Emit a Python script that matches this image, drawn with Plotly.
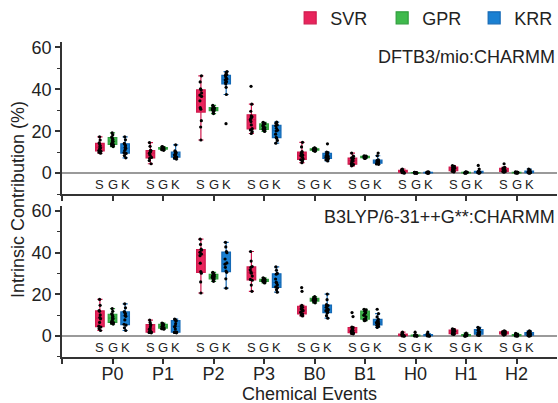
import plotly.graph_objects as go

# chemical events (x categories)
events = ["P0", "P1", "P2", "P3", "B0", "B1", "H0", "H1", "H2"]
methods = ["SVR", "GPR", "KRR"]
letters = ["S", "G", "K"]

# intrinsic contribution samples (%), one list per event
# --- DFTB3/mio:CHARMM ---
dftb_svr = [
    [9.5, 10.0, 10.5, 10.8, 11.5, 12.0, 12.6, 13.2, 14.0, 14.4, 15.8, 17.3],
    [4.5, 6.0, 7.1, 7.5, 8.6, 9.4, 9.8, 10.2, 10.7, 10.9, 12.8, 14.6],
    [15.8, 22.0, 25.0, 30.5, 31.2, 34.5, 36.6, 37.2, 38.2, 39.6, 40.2, 43.5, 46.4],
    [18.9, 19.8, 20.6, 21.2, 23.0, 24.6, 25.5, 26.2, 26.9, 27.3, 29.5, 32.9, 41.4],
    [5.0, 5.8, 6.4, 6.7, 7.6, 8.3, 8.7, 9.3, 9.9, 10.3, 12.5, 14.7],
    [3.5, 3.9, 4.2, 4.4, 5.3, 5.8, 6.2, 6.6, 7.1, 7.3, 8.1, 9.6],
    [0.0, 0.2, 0.4, 0.5, 0.7, 0.8, 1.0, 1.1, 1.3, 1.4, 1.7, 2.0],
    [0.6, 0.9, 1.1, 1.2, 1.6, 1.9, 2.1, 2.4, 2.8, 3.0, 3.3, 3.6],
    [0.5, 0.7, 0.8, 0.9, 1.2, 1.4, 1.6, 1.9, 2.2, 2.4, 2.8, 4.5],
]
dftb_gpr = [
    [12.7, 13.2, 13.6, 13.9, 14.6, 15.1, 15.5, 16.2, 16.8, 17.2, 18.3, 19.2],
    [10.9, 11.2, 11.4, 11.6, 11.8, 11.9, 11.9, 12.0, 12.2, 12.2, 12.5, 12.7],
    [28.4, 29.2, 29.7, 29.9, 30.3, 30.4, 30.6, 30.8, 31.1, 31.3, 31.8, 32.3],
    [19.9, 20.4, 20.7, 21.0, 21.6, 21.9, 22.1, 22.6, 23.3, 23.6, 23.9, 24.2],
    [10.4, 10.7, 10.9, 11.0, 11.2, 11.3, 11.3, 11.4, 11.6, 11.7, 11.9, 12.1],
    [7.0, 7.2, 7.4, 7.5, 7.6, 7.7, 7.8, 7.9, 8.0, 8.0, 8.1, 8.2],
    [0.0, 0.05, 0.1, 0.1, 0.15, 0.2, 0.2, 0.25, 0.3, 0.3, 0.35, 0.4],
    [0.0, 0.1, 0.15, 0.2, 0.25, 0.3, 0.3, 0.35, 0.4, 0.45, 0.5, 0.6],
    [0.0, 0.1, 0.15, 0.2, 0.25, 0.3, 0.3, 0.35, 0.4, 0.45, 0.5, 0.6],
]
dftb_krr = [
    [7.3, 8.4, 9.4, 9.8, 10.9, 11.8, 12.2, 13.1, 13.8, 14.2, 15.9, 17.3],
    [6.7, 7.2, 7.5, 7.7, 8.3, 8.7, 8.9, 9.3, 9.7, 9.9, 10.3, 10.6, 13.5],
    [23.6, 37.5, 40.9, 42.5, 43.2, 43.6, 44.4, 44.9, 45.1, 45.8, 46.6, 47.0, 47.8, 48.4],
    [14.3, 15.6, 16.7, 17.1, 18.6, 20.1, 20.5, 21.4, 22.6, 23.0, 23.8, 24.3],
    [5.8, 6.4, 6.9, 7.1, 7.6, 8.0, 8.2, 8.6, 9.1, 9.3, 9.8, 10.1, 14.0],
    [4.2, 4.4, 4.6, 4.8, 5.0, 5.2, 5.4, 5.6, 5.9, 6.1, 6.4, 8.3, 9.6],
    [0.0, 0.05, 0.1, 0.15, 0.2, 0.25, 0.3, 0.35, 0.4, 0.45, 0.5, 0.6],
    [0.0, 0.1, 0.2, 0.3, 0.4, 0.5, 0.6, 0.7, 0.8, 0.9, 2.0, 3.7],
    [0.0, 0.1, 0.2, 0.3, 0.45, 0.55, 0.65, 0.8, 0.95, 1.1, 1.5, 2.0],
]
# --- B3LYP/6-31++G**:CHARMM ---
b3lyp_svr = [
    [2.7, 3.6, 4.4, 4.8, 6.6, 8.3, 8.9, 10.2, 11.9, 12.3, 14.8, 17.6],
    [1.6, 1.8, 1.9, 2.0, 2.8, 3.3, 3.7, 4.5, 5.3, 5.7, 6.6, 7.7],
    [20.7, 26.0, 30.2, 31.0, 35.0, 38.6, 39.4, 40.2, 41.3, 41.7, 44.0, 46.5],
    [21.5, 24.5, 26.8, 27.2, 28.8, 30.2, 30.8, 31.8, 33.0, 33.4, 36.0, 40.6],
    [9.7, 10.2, 10.5, 10.7, 11.5, 12.2, 12.6, 13.1, 13.8, 14.2, 14.8, 21.5, 23.3],
    [1.1, 1.3, 1.5, 1.7, 2.2, 2.6, 2.8, 3.2, 3.8, 4.1, 4.3, 9.4, 11.3],
    [0.0, 0.1, 0.2, 0.3, 0.4, 0.5, 0.6, 0.7, 0.9, 1.1, 1.5, 1.9],
    [0.8, 1.0, 1.2, 1.3, 1.6, 1.9, 2.1, 2.4, 2.8, 3.0, 3.2, 3.5],
    [0.5, 0.8, 1.0, 1.1, 1.3, 1.5, 1.6, 1.8, 2.0, 2.1, 2.3, 2.5],
]
b3lyp_gpr = [
    [5.8, 6.2, 6.5, 6.7, 7.6, 8.4, 8.8, 9.6, 10.3, 10.7, 11.9, 13.2],
    [3.3, 3.6, 3.8, 3.9, 4.3, 4.6, 4.8, 5.1, 5.5, 5.7, 6.0, 6.3],
    [26.3, 27.0, 27.4, 27.6, 28.0, 28.3, 28.5, 28.9, 29.4, 29.8, 30.2, 30.6],
    [25.5, 25.9, 26.1, 26.3, 26.5, 26.6, 26.7, 26.9, 27.1, 27.3, 27.6, 28.0],
    [16.0, 16.4, 16.7, 16.9, 17.2, 17.3, 17.5, 17.7, 18.0, 18.2, 18.6, 19.0],
    [7.4, 7.8, 8.1, 8.3, 9.3, 10.0, 10.4, 11.2, 11.9, 12.2, 12.6, 12.9],
    [0.0, 0.1, 0.15, 0.2, 0.25, 0.3, 0.35, 0.4, 0.45, 0.5, 0.6, 1.9],
    [0.0, 0.1, 0.2, 0.3, 0.4, 0.5, 0.55, 0.6, 0.7, 0.8, 1.1, 1.5],
    [0.0, 0.1, 0.2, 0.3, 0.4, 0.5, 0.55, 0.6, 0.7, 0.8, 1.0, 1.3],
]
b3lyp_krr = [
    [2.7, 4.0, 5.3, 5.7, 7.8, 9.5, 9.9, 10.7, 11.4, 11.8, 13.6, 15.5],
    [1.6, 1.8, 1.9, 2.0, 3.4, 4.5, 4.9, 6.0, 7.3, 7.5, 7.9, 8.2],
    [23.0, 27.5, 30.6, 31.2, 33.0, 34.5, 35.1, 37.0, 40.0, 40.6, 42.8, 45.0],
    [21.1, 22.3, 23.2, 23.6, 24.6, 25.5, 25.9, 27.4, 29.7, 30.1, 31.6, 33.2],
    [8.6, 9.8, 11.1, 11.5, 12.2, 12.7, 13.1, 13.8, 14.7, 15.1, 17.5, 20.2],
    [4.2, 4.7, 5.2, 5.4, 6.0, 6.4, 6.6, 6.9, 7.1, 7.3, 8.0, 9.2, 10.8, 12.9],
    [0.0, 0.1, 0.2, 0.3, 0.4, 0.5, 0.55, 0.6, 0.7, 0.8, 1.2, 2.0],
    [0.3, 0.5, 0.8, 1.0, 1.3, 1.5, 1.7, 2.1, 2.8, 3.4, 3.8, 4.2],
    [0.0, 0.2, 0.4, 0.6, 0.8, 1.0, 1.1, 1.3, 1.6, 1.9, 2.2, 2.5],
]

panels = [
    ("DFTB3/mio:CHARMM", [dftb_svr, dftb_gpr, dftb_krr]),
    ("B3LYP/6-31++G**:CHARMM", [b3lyp_svr, b3lyp_gpr, b3lyp_krr]),
]

FILL = {"SVR": "#e8245c", "GPR": "#3fba4c", "KRR": "#1a80d2"}
LINE = {"SVR": "#d01a4e", "GPR": "#2f9e3c", "KRR": "#1569b5"}
OFFSET = {"SVR": -0.25, "GPR": 0.0, "KRR": 0.25}
FONT = "Liberation Sans, Arial, sans-serif"
INK = "#222222"

fig = go.Figure()
for p, (label, series) in enumerate(panels):
    xa = "x" if p == 0 else "x2"
    ya = "y" if p == 0 else "y2"
    for m, samples in zip(methods, series):
        xs, ys = [], []
        for i, vals in enumerate(samples):
            xs += [i + OFFSET[m]] * len(vals)
            ys += vals
        fig.add_trace(go.Box(
            x=xs, y=ys, name=m, legendgroup=m, showlegend=(p == 0),
            xaxis=xa, yaxis=ya, width=0.17, whiskerwidth=0.6,
            fillcolor=FILL[m], line=dict(color=LINE[m], width=1.2),
            boxpoints="all", jitter=0.3, pointpos=0,
            marker=dict(color="black", size=3.2),
        ))
    # S / G / K letters under each box
    for i in range(len(events)):
        for m, ch in zip(methods, letters):
            fig.add_annotation(x=i + OFFSET[m], y=-5.5, xref=xa, yref=ya,
                               text=ch, showarrow=False,
                               font=dict(size=13, color=INK))
    fig.add_annotation(x=1, xref="paper", xanchor="right",
                       y=55.5 if p == 0 else 57.2, yref=ya,
                       yanchor="middle", text=label, showarrow=False,
                       font=dict(size=18, color=INK))

yax = dict(range=[-10, 62.5], tickvals=[0, 20, 40, 60], showline=True,
           linecolor="#333", linewidth=1.5, ticks="outside", ticklen=5,
           tickwidth=1.5, tickcolor="#333", showgrid=False,
           zeroline=True, zerolinecolor="#9a9a9a", zerolinewidth=1.5,
           minor=dict(dtick=10, tick0=0, ticks="outside", ticklen=3,
                      tickcolor="#333", tickwidth=1.2),
           tickfont=dict(size=18, color=INK))
xax = dict(range=[-1, 8.8], tickvals=list(range(-1, len(events))),
           ticktext=[""] + events, showline=True, linecolor="#333",
           linewidth=1.5, ticks="outside", ticklen=5, tickwidth=1.5,
           tickcolor="#333", showgrid=False, zeroline=False,
           ticklabelstandoff=-5, tickfont=dict(size=18, color=INK))

fig.update_layout(
    width=558, height=403, autosize=False,
    margin=dict(l=62, r=1, t=34, b=46),
    plot_bgcolor="white", paper_bgcolor="white",
    font=dict(family=FONT, color=INK),
    xaxis=dict(xax, anchor="y", showticklabels=False),
    yaxis=dict(yax, anchor="x", domain=[0.517, 1.0]),
    xaxis2=dict(xax, anchor="y2"),
    yaxis2=dict(yax, anchor="x2", domain=[0.0, 0.48]),
    showlegend=True,
    legend=dict(orientation="h", xref="container", yref="container",
                x=0.52, xanchor="left", y=0.955, yanchor="middle",
                font=dict(size=18, color=INK),
                itemwidth=30, entrywidth=47, bgcolor="rgba(0,0,0,0)"),
)
fig.add_annotation(x=-0.09, y=0.5, xref="paper", yref="paper",
                   xanchor="center", yanchor="middle",
                   text="Intrinsic Contribution (%)", textangle=-90,
                   showarrow=False, font=dict(size=18, color=INK))
fig.add_annotation(x=0.5, y=-0.116, xref="paper", yref="paper",
                   xanchor="center", yanchor="middle",
                   text="Chemical Events", showarrow=False,
                   font=dict(size=18, color=INK))

# drop the default page margin so the 558x403 figure sits at the window origin
fig.write_html("out.html", config={"displayModeBar": False},
               post_script="document.body.style.margin='0';"
                           "document.body.style.overflow='hidden';")
